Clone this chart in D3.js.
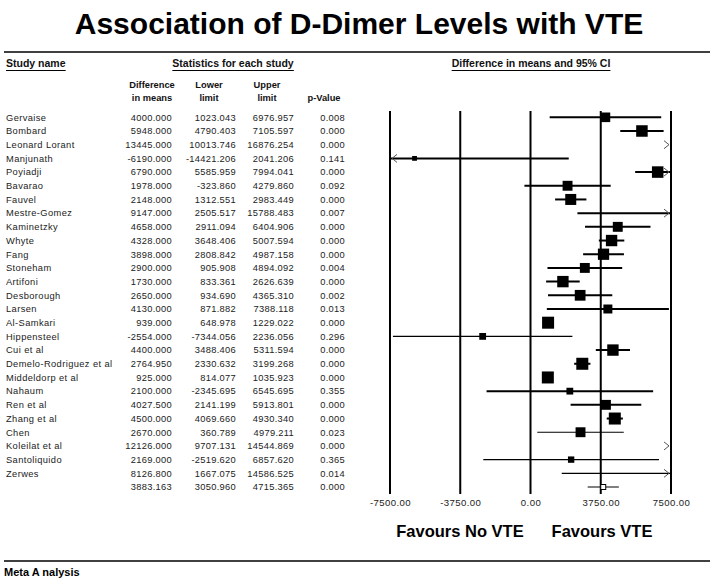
<!DOCTYPE html>
<html><head><meta charset="utf-8">
<script src="https://cdn.jsdelivr.net/npm/d3@7"></script>
<style>body{margin:0;background:#fff}svg{display:block}</style>
</head><body>
<script>
const studies = ["Gervaise","Bombard","Leonard Lorant","Manjunath","Poyiadji","Bavarao","Fauvel","Mestre-Gomez","Kaminetzky","Whyte","Fang","Stoneham","Artifoni","Desborough","Larsen","Al-Samkari","Hippensteel","Cui et al","Demelo-Rodriguez et al","Middeldorp et al","Nahaum","Ren et al","Zhang et al","Chen","Koleilat et al","Santoliquido","Zerwes"];
const diffs  = [4000,5948,13445,-6190,6790,1978,2148,9147,4658,4328,3898,2900,1730,2650,4130,939,-2554,4400,2764.95,925,2100,4027.5,4500,2670,12126,2169,8126.8];
const lowers = [1023.043,4790.403,10013.746,-14421.206,5585.959,-323.860,1312.551,2505.517,2911.094,3648.406,2808.842,905.908,833.361,934.690,871.882,648.978,-7344.056,3488.406,2330.632,814.077,-2345.695,2141.199,4069.660,360.789,9707.131,-2519.620,1667.075];
const uppers = [6976.957,7105.597,16876.254,2041.206,7994.041,4279.860,2983.449,15788.483,6404.906,5007.594,4987.158,4894.092,2626.639,4365.310,7388.118,1229.022,2236.056,5311.594,3199.268,1035.923,6545.695,5913.801,4930.340,4979.211,14544.869,6857.620,14586.525];
const pvals  = [0.008,0.000,0.000,0.141,0.000,0.092,0.000,0.007,0.000,0.000,0.000,0.004,0.000,0.002,0.013,0.000,0.296,0.000,0.000,0.000,0.355,0.000,0.000,0.023,0.000,0.365,0.014];
const weights = [3.2,4.6,3.5,0.8,4.6,3.4,4.2,1.5,3.4,4.5,4.4,3.4,4.5,4.0,2.8,5.0,1.6,4.5,5.0,5.0,1.6,3.4,5.0,3.4,3.0,1.4,1.5];
const summary = {diff:3883.163, lower:3050.960, upper:4715.365, p:0.000};
const axisTicks = [-7500,-3750,0,3750,7500];

const W=714,H=588;
const FONT="'Liberation Sans', Arial, sans-serif";
const loc=d3.formatLocale({decimal:".",thousands:",",grouping:[3],currency:["$",""],minus:"-"});
const svg=d3.select("body").append("svg").attr("width",W).attr("height",H)
  .style("font-family",FONT);

// title
svg.append("text").attr("x",359).attr("y",34).attr("text-anchor","middle")
  .attr("font-size",30).attr("font-weight","bold").text("Association of D-Dimer Levels with VTE");
svg.append("line").attr("x1",4).attr("x2",710).attr("y1",52).attr("y2",52).attr("stroke","#000").attr("stroke-width",1.5);

// headers
function hdr(txt,x,anchor){
  const t=svg.append("text").attr("x",x).attr("y",67).attr("text-anchor",anchor)
    .attr("font-size",10.5).attr("font-weight","bold").attr("fill","#111").text(txt);
  const bb=t.node().getBBox();
  svg.append("line").attr("x1",bb.x).attr("x2",bb.x+bb.width).attr("y1",70.5).attr("y2",70.5).attr("stroke","#000").attr("stroke-width",1);
}
hdr("Study name",6,"start");
hdr("Statistics for each study",233,"middle");
hdr("Difference in means and 95% CI",531,"middle");

const colHdr=[["Difference","in means",152],["Lower","limit",209],["Upper","limit",267],[null,"p-Value",324]];
colHdr.forEach(c=>{
  if(c[0]) svg.append("text").attr("x",c[2]).attr("y",88).attr("text-anchor","middle").attr("font-size",9.3).attr("font-weight","bold").attr("fill","#111").text(c[0]);
  svg.append("text").attr("x",c[2]).attr("y",101).attr("text-anchor","middle").attr("font-size",9.3).attr("font-weight","bold").attr("fill","#111").text(c[1]);
});

const n=studies.length;
const y=d3.scalePoint().domain(d3.range(n+1)).range([117.3,487]);
const x=d3.scaleLinear().domain([-7500,7500]).range([390,671]);
const sz=d3.scaleSqrt().domain([0,5]).range([0,12]);
const fmt=loc.format(".3f");
const cols=[172,236,294,345];

function rowText(i,name,vals){
  const g=svg.append("g").attr("font-size",9.3).attr("fill","#222");
  g.append("text").attr("x",6).attr("y",y(i)+3.3).attr("letter-spacing",0.4).text(name);
  vals.forEach((v,k)=>g.append("text").attr("x",cols[k]).attr("y",y(i)+3.3).attr("text-anchor","end").attr("letter-spacing",0.3).text(fmt(v)));
}
studies.forEach((s,i)=>rowText(i,s,[diffs[i],lowers[i],uppers[i],pvals[i]]));
rowText(n,"",[summary.diff,summary.lower,summary.upper,summary.p]);

// gridlines
axisTicks.forEach(t=>{
  svg.append("line").attr("x1",x(t)).attr("x2",x(t)).attr("y1",111).attr("y2",494).attr("stroke","#000").attr("stroke-width",2);
});
// tick labels
const axis=d3.axisBottom(x).tickValues(axisTicks).tickFormat(loc.format(".2f")).tickSize(0).tickPadding(0);
const ag=svg.append("g").attr("transform","translate(0,499)").call(axis);
ag.select(".domain").remove();
ag.selectAll("text").attr("font-size",9.6).attr("font-family",FONT).attr("fill","#222").attr("letter-spacing",0.4);

const thin=new Set(["Hippensteel","Chen","Santoliquido","Zerwes"]);
const [dmin,dmax]=x.domain();
function chevron(cx,cy,dir){
  svg.append("path").attr("d",`M${cx-5*dir},${cy-4}L${cx},${cy}L${cx-5*dir},${cy+4}`)
    .attr("fill","none").attr("stroke","#555").attr("stroke-width",1);
}
studies.forEach((s,i)=>{
  const cy=y(i);
  const lo=Math.max(lowers[i],dmin), hi=Math.min(uppers[i],dmax);
  const sw=thin.has(s)?1.2:2;
  if(lo<hi){
    svg.append("line").attr("x1",x(lo)).attr("x2",x(hi)).attr("y1",cy).attr("y2",cy).attr("stroke","#000").attr("stroke-width",sw);
  }
  if(uppers[i]>dmax) chevron(x(dmax)-2,cy,1);
  if(lowers[i]<dmin) chevron(x(dmin)+2,cy,-1);
  if(diffs[i]>=dmin && diffs[i]<=dmax){
    const s2=sz(weights[i]);
    svg.append("rect").attr("x",x(diffs[i])-s2/2).attr("y",cy-s2/2).attr("width",s2).attr("height",s2).attr("fill","#000");
  }
});
// summary
{
  const cy=y(n);
  svg.append("line").attr("x1",x(summary.lower)).attr("x2",x(summary.upper)).attr("y1",cy).attr("y2",cy).attr("stroke","#000").attr("stroke-width",1);
  svg.append("rect").attr("x",x(summary.diff)-2.5).attr("y",cy-2.5).attr("width",5).attr("height",5).attr("fill","#fff").attr("stroke","#000").attr("stroke-width",1);
}

svg.append("text").attr("x",460).attr("y",537).attr("text-anchor","middle").attr("font-size",16.5).attr("font-weight","bold").text("Favours No VTE");
svg.append("text").attr("x",602).attr("y",537).attr("text-anchor","middle").attr("font-size",16.5).attr("font-weight","bold").text("Favours VTE");

svg.append("line").attr("x1",4).attr("x2",710).attr("y1",561).attr("y2",561).attr("stroke","#000").attr("stroke-width",1.5);
svg.append("text").attr("x",4).attr("y",576).attr("font-size",11).attr("font-weight","bold").text("Meta A nalysis");
</script>
</body></html>
